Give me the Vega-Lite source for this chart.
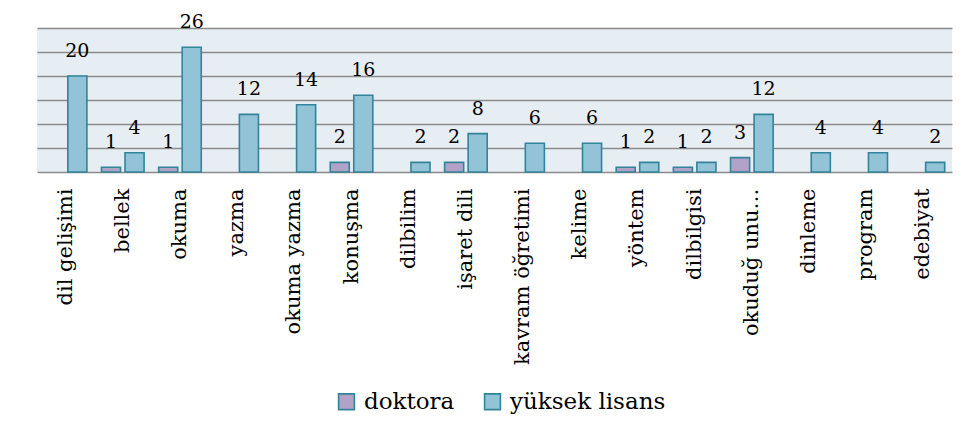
{
  "$schema": "https://vega.github.io/schema/vega-lite/v6.json",
  "width": 915,
  "height": 144,
  "padding": {"left": 37, "top": 13, "right": 18, "bottom": 10},
  "background": "white",
  "data": {
    "values": [
      {"konu": "dil gelişimi", "derece": "yüksek lisans", "sayi": 20},
      {"konu": "bellek", "derece": "doktora", "sayi": 1},
      {"konu": "bellek", "derece": "yüksek lisans", "sayi": 4},
      {"konu": "okuma", "derece": "doktora", "sayi": 1},
      {"konu": "okuma", "derece": "yüksek lisans", "sayi": 26},
      {"konu": "yazma", "derece": "yüksek lisans", "sayi": 12},
      {"konu": "okuma yazma", "derece": "yüksek lisans", "sayi": 14},
      {"konu": "konuşma", "derece": "doktora", "sayi": 2},
      {"konu": "konuşma", "derece": "yüksek lisans", "sayi": 16},
      {"konu": "dilbilim", "derece": "yüksek lisans", "sayi": 2},
      {"konu": "işaret dili", "derece": "doktora", "sayi": 2},
      {"konu": "işaret dili", "derece": "yüksek lisans", "sayi": 8},
      {"konu": "kavram öğretimi", "derece": "yüksek lisans", "sayi": 6},
      {"konu": "kelime", "derece": "yüksek lisans", "sayi": 6},
      {"konu": "yöntem", "derece": "doktora", "sayi": 1},
      {"konu": "yöntem", "derece": "yüksek lisans", "sayi": 2},
      {"konu": "dilbilgisi", "derece": "doktora", "sayi": 1},
      {"konu": "dilbilgisi", "derece": "yüksek lisans", "sayi": 2},
      {"konu": "okuduğ unu…", "derece": "doktora", "sayi": 3},
      {"konu": "okuduğ unu…", "derece": "yüksek lisans", "sayi": 12},
      {"konu": "dinleme", "derece": "yüksek lisans", "sayi": 4},
      {"konu": "program", "derece": "yüksek lisans", "sayi": 4},
      {"konu": "edebiyat", "derece": "yüksek lisans", "sayi": 2}
    ]
  },
  "encoding": {
    "x": {
      "field": "konu",
      "type": "nominal",
      "sort": null,
      "scale": {"paddingInner": 0, "paddingOuter": 0},
      "axis": {
        "title": null,
        "labelAngle": -90,
        "labelFont": "DejaVu Serif",
        "labelFontSize": 21,
        "labelColor": "#000000",
        "labelPadding": 16,
        "ticks": false,
        "domain": false,
        "labelLimit": 300
      }
    },
    "xOffset": {
      "field": "derece",
      "type": "nominal",
      "scale": {"domain": ["doktora", "yüksek lisans"], "paddingInner": 0.19, "paddingOuter": 0.31}
    },
    "y": {
      "field": "sayi",
      "type": "quantitative",
      "scale": {"domain": [0, 30], "nice": false},
      "axis": {
        "title": null,
        "values": [0, 5, 10, 15, 20, 25, 30],
        "labels": false,
        "ticks": false,
        "domain": false,
        "grid": true,
        "gridColor": "#8a8a8a",
        "gridWidth": 1.6,
        "gridOpacity": 1
      }
    }
  },
  "layer": [
    {
      "mark": {"type": "bar", "stroke": "#31849b", "strokeWidth": 1.6},
      "encoding": {
        "fill": {
          "field": "derece",
          "type": "nominal",
          "scale": {"domain": ["doktora", "yüksek lisans"], "range": ["#b3a2c7", "#93c3d6"]},
          "legend": {
            "title": null,
            "orient": "none",
            "direction": "horizontal",
            "legendX": 298,
            "legendY": 362,
            "symbolType": "square",
            "symbolSize": 250,
            "symbolStrokeColor": "#31849b",
            "symbolStrokeWidth": 1.6,
            "labelFont": "DejaVu Serif",
            "labelFontSize": 23,
            "labelColor": "#000000",
            "labelOffset": 6,
            "columnPadding": 26,
            "labelLimit": 300
          }
        }
      }
    },
    {
      "mark": {"type": "text", "baseline": "bottom", "dy": -15, "font": "DejaVu Serif", "fontSize": 19, "color": "#000000"},
      "encoding": {"text": {"field": "sayi", "type": "quantitative"}}
    }
  ],
  "config": {
    "view": {"fill": "#e7eef3", "stroke": null}
  }
}
